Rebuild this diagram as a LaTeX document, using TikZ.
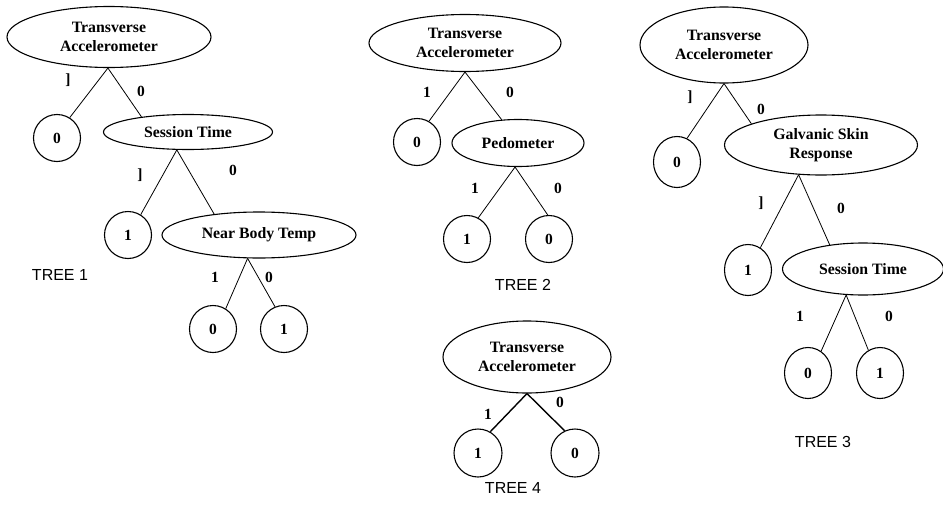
\documentclass[tikz,border=0pt]{standalone}
\usepackage{fontspec}
\setmainfont{Liberation Serif}
\newfontfamily\capfont{Liberation Sans}
\usetikzlibrary{shapes.geometric}
\begin{document}
\begin{tikzpicture}[x=1pt,y=-1pt,
  ell/.style={draw,ellipse,line width=1.1pt,inner sep=0pt,align=center,
    font=\fontsize{15.8}{19.5}\selectfont\bfseries},
  leaf/.style={draw,circle,line width=1.1pt,minimum size=47pt,inner sep=0pt,
    font=\fontsize{15.5}{18}\selectfont\bfseries},
  oleaf/.style={leaf,ellipse,minimum width=47pt,minimum height=51pt},
  lab/.style={font=\fontsize{15.5}{18}\selectfont\bfseries,inner sep=0pt},
  branch/.style={line width=0.8pt},
  thickbranch/.style={line width=1.4pt},
  treecap/.style={font=\capfont\fontsize{16}{18}\selectfont,inner sep=0pt}]
\useasboundingbox[fill=white] (0,0) rectangle (943,525);

% ---------- TREE 1
\node[ell,minimum width=204pt,minimum height=61pt] (r1) at (109,37) {Transverse\\Accelerometer};
\node[leaf] (l10) at (57,138) {0};
\node[ell,minimum width=169pt,minimum height=35pt] (st1) at (188,132) {Session Time};
\node[leaf] (l11) at (128,235) {1};
\node[ell,minimum width=194pt,minimum height=46pt] (nb1) at (259,235) {Near Body Temp};
\node[leaf] (l12) at (213,329) {0};
\node[leaf] (l13) at (284,329) {1};
\draw[branch] (r1.268) -- (l10.58);
\draw[branch] (r1.268) -- (st1.162);
\draw[branch] (st1.238) -- (l11.58);
\draw[branch] (st1.238) -- (nb1.155);
\draw[branch] (nb1.244) -- (l12.58);
\draw[branch] (nb1.244) -- (l13.112);
\node[lab] (a1) at (68,80) {]};
\node[lab] (a2) at (141,91) {0};
\node[lab] (a3) at (140,175) {]};
\node[lab] (a4) at (233,170) {0};
\node[lab] (a5) at (215,277) {1};
\node[lab] (a6) at (269,277) {0};
\node[treecap] (t1) at (60,275) {TREE 1};

% ---------- TREE 2
\node[ell,minimum width=192pt,minimum height=57pt] (r2) at (465,43) {Transverse\\Accelerometer};
\node[leaf] (l20) at (417,142) {0};
\node[ell,minimum width=132pt,minimum height=47pt] (pd2) at (518,143) {Pedometer};
\node[leaf] (l21) at (467,239) {1};
\node[leaf] (l22) at (549,239) {0};
\draw[branch] (r2.south) -- (l20.60);
\draw[branch] (r2.south) -- (pd2.125);
\draw[branch] (pd2.263) -- (l21.62);
\draw[branch] (pd2.263) -- (l22.93);
\node[lab] (b1) at (427,92) {1};
\node[lab] (b2) at (510,92) {0};
\node[lab] (b3) at (475,188) {1};
\node[lab] (b4) at (558,188) {0};
\node[treecap] (t2) at (523,285) {TREE 2};

% ---------- TREE 3
\node[ell,minimum width=168pt,minimum height=76pt] (r3) at (724,45) {Transverse\\Accelerometer};
\node[oleaf] (l30) at (677,162) {0};
\node[ell,minimum width=193pt,minimum height=60pt] (gs3) at (821,145) {Galvanic Skin\\Response};
\node[oleaf] (l31) at (748,270) {1};
\node[ell,minimum width=161pt,minimum height=52pt] (st3) at (863,269) {Session Time};
\node[oleaf] (l32) at (808,373) {0};
\node[oleaf] (l33) at (880,373) {1};
\draw[branch] (r3.south) -- (l30.67);
\draw[branch] (r3.south) -- (gs3.163);
\draw[branch] (gs3.233) -- (l31.61);
\draw[branch] (gs3.233) -- (st3.144);
\draw[branch] (st3.237) -- (l32.59);
\draw[branch] (st3.237) -- (l33.117);
\node[lab] (c1) at (690,97) {]};
\node[lab] (c2) at (761,109) {0};
\node[lab] (c3) at (761,203) {]};
\node[lab] (c4) at (841,208) {0};
\node[lab] (c5) at (800,316) {1};
\node[lab] (c6) at (889,316) {0};
\node[treecap] (t3) at (823,442) {TREE 3};

% ---------- TREE 4
\node[ell,minimum width=168pt,minimum height=72pt] (r4) at (527,357) {Transverse\\Accelerometer};
\node[leaf,minimum size=48pt] (l41) at (478,453) {1};
\node[leaf,minimum size=48pt] (l40) at (575,453) {0};
\draw[thickbranch] (r4.south) -- (l41.60);
\draw[thickbranch] (r4.south) -- (l40.115);
\node[lab] (d1) at (488,414) {1};
\node[lab] (d2) at (560,402) {0};
\node[treecap] (t4) at (513,488) {TREE 4};
\end{tikzpicture}
\end{document}
